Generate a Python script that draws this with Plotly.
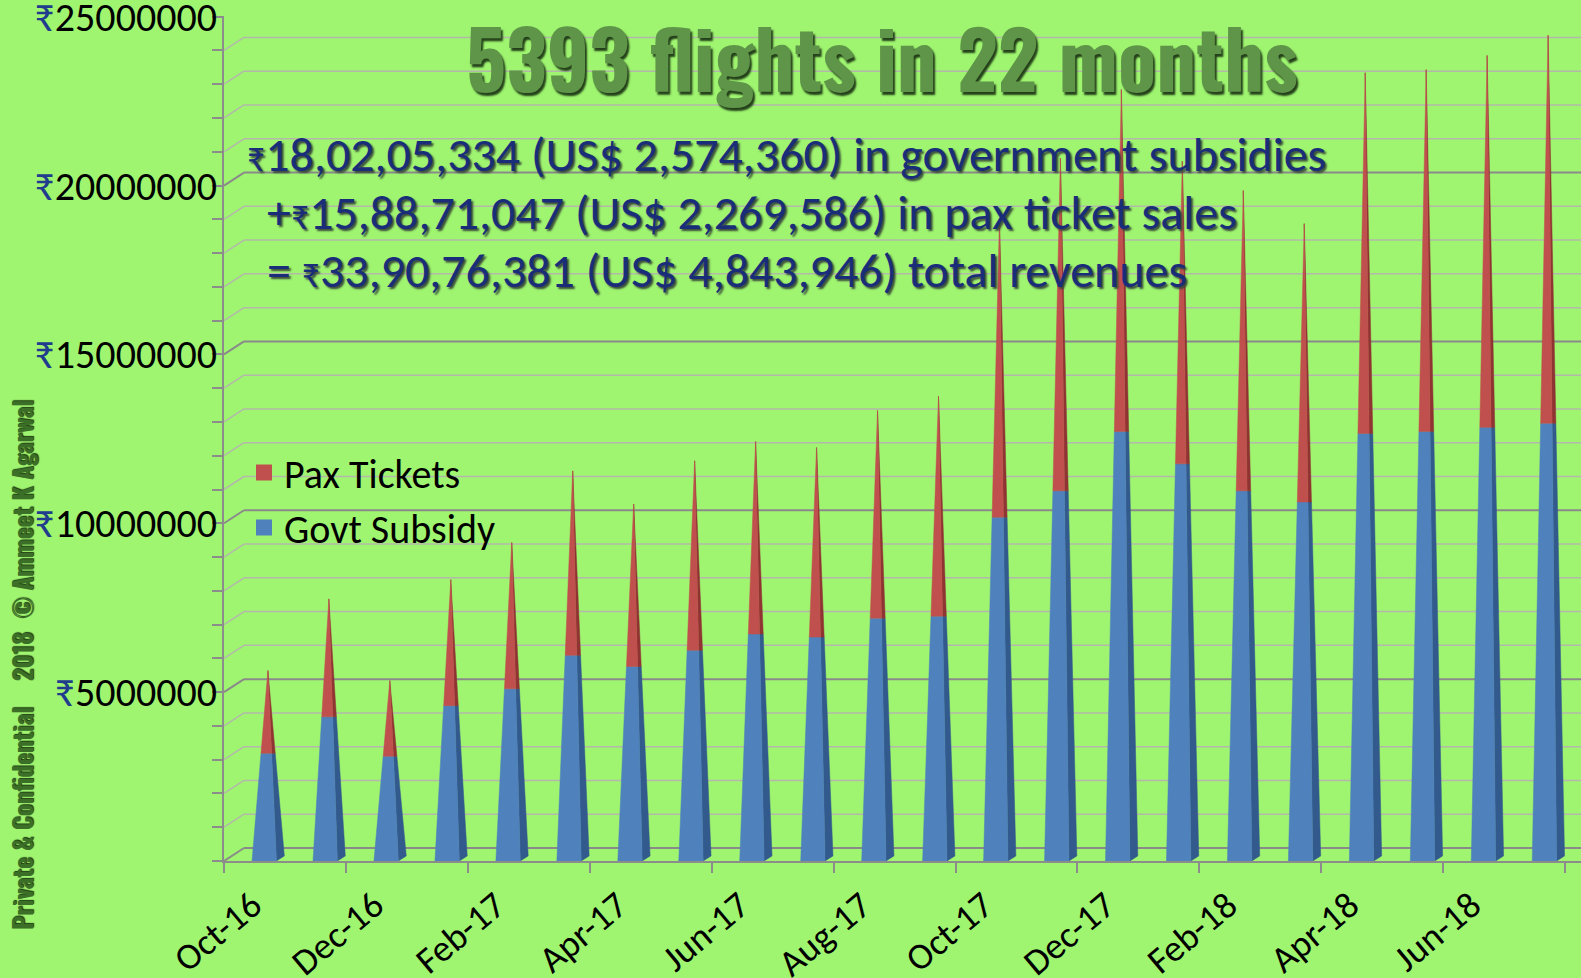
import plotly.graph_objects as go

months = ["Oct-16", "Nov-16", "Dec-16", "Jan-17", "Feb-17", "Mar-17", "Apr-17", "May-17",
          "Jun-17", "Jul-17", "Aug-17", "Sep-17", "Oct-17", "Nov-17", "Dec-17", "Jan-18",
          "Feb-18", "Mar-18", "Apr-18", "May-18", "Jun-18", "Jul-18"]
govt_subsidy = [3.19e6, 4.27e6, 3.10e6, 4.60e6, 5.10e6, 6.09e6, 5.76e6, 6.24e6, 6.72e6, 6.63e6, 7.19e6,
                7.25e6, 10.18e6, 10.96e6, 12.72e6, 11.76e6, 10.96e6, 10.63e6, 12.66e6, 12.72e6, 12.84e6, 12.96e6]
pax_tickets = [2.45e6, 3.49e6, 2.24e6, 3.73e6, 4.33e6, 5.46e6, 4.81e6, 5.61e6, 5.70e6, 5.61e6, 6.15e6,
               6.51e6, 8.78e6, 9.85e6, 10.12e6, 8.96e6, 8.89e6, 8.24e6, 10.68e6, 10.71e6, 11.01e6, 11.49e6]
ytick_values = [5e6, 10e6, 15e6, 20e6, 25e6]
ytick_labels = ["5000000", "10000000", "15000000", "20000000", "25000000"]
title_text = "5393 flights in 22 months"
RS = "<span style='font-size:36px'>₹</span>"
summary_lines = [RS + "18,02,05,334 (US$ 2,574,360) in government subsidies",
                 "+" + RS + "15,88,71,047 (US$ 2,269,586) in pax ticket sales",
                 "= " + RS + "33,90,76,381 (US$ 4,843,946) total revenues"]
side_text = "Private & Confidential\u00a0\u00a0\u00a0 2018 \u00a0© Ammeet K Agarwal"

W, H = 1581, 978
ML, MR, MT, MB = 224, 0, 16, 117
PW, PH = W - ML - MR, H - MT - MB
BG = "#9ff570"
YMAX = 25.02e6
GRID_STEP = 1e6


def px(x):
    return (x - ML) / PW


def py(y):
    return 1 - (y - MT) / PH


# pyramid geometry (in category units)
HW, AX, D, LIFT = 0.2, 0.06, 0.13, 0.15e6

blue_front_x, blue_front_y = [], []
blue_side_x, blue_side_y = [], []
red_front_x, red_front_y = [], []
red_side_x, red_side_y = [], []

for i, (s, p) in enumerate(zip(govt_subsidy, pax_tickets)):
    c = i
    t = s + p
    ax = c + AX

    def L(h):
        return (c - HW) + (ax - (c - HW)) * h / t

    def R(h):
        return (c + HW) + (ax - (c + HW)) * h / t

    bx0, by0 = c + HW + D, LIFT

    def B(h):
        return bx0 + (ax - bx0) * (h - by0) / (t - by0)

    blue_front_x += [L(0), R(0), R(s), L(s), L(0), None]
    blue_front_y += [0, 0, s, s, 0, None]
    red_front_x += [L(s), R(s), ax, L(s), None]
    red_front_y += [s, s, t, s, None]
    blue_side_x += [R(0), bx0, B(s), R(s), R(0), None]
    blue_side_y += [0, by0, s, s, 0, None]
    red_side_x += [R(s), B(s), ax, R(s), None]
    red_side_y += [s, s, t, s, None]

fig = go.Figure()


def poly(xs, ys, color):
    fig.add_trace(go.Scatter(x=xs, y=ys, mode="lines", fill="toself", fillcolor=color,
                             line=dict(width=0.5, color=color), showlegend=False, hoverinfo="skip"))


poly(blue_side_x, blue_side_y, "#335a8c")
poly(red_side_x, red_side_y, "#8f3432")
poly(blue_front_x, blue_front_y, "#4f81bd")
poly(red_front_x, red_front_y, "#c0504d")

fig.add_trace(go.Scatter(x=[None], y=[None], mode="markers", name="Pax Tickets",
                         marker=dict(symbol="square", size=20, color="#c0504d"), legendgroup="a"))
fig.add_trace(go.Scatter(x=[None], y=[None], mode="markers", name="Govt Subsidy",
                         marker=dict(symbol="square", size=20, color="#4f81bd"), legendgroup="b"))

# 3D-style back-wall gridlines (offset up and to the right of the front axis ticks)
back_dy = 13 * YMAX / PH
back_x = px(244)
n_grid = int(round(24e6 / GRID_STEP))
for k in range(n_grid + 1):
    v = k * GRID_STEP
    major = (k % 5 == 0)
    col = "#8a8a8a" if major else "#b3b8aa"
    wid = 2 if major else 1.5
    fig.add_shape(type="line", xref="paper", yref="y", x0=0, y0=v, x1=back_x, y1=v + back_dy,
                  line=dict(color=col, width=wid), layer="below")
    fig.add_shape(type="line", xref="paper", yref="y", x0=back_x, y0=v + back_dy, x1=1, y1=v + back_dy,
                  line=dict(color=col, width=wid), layer="below")

BODY = "Carlito, Lato, sans-serif"
IMPACT = "Oswald, 'Roboto Condensed', sans-serif"

fig.update_layout(
    width=W, height=H,
    margin=dict(l=ML, r=MR, t=MT, b=MB, pad=0, autoexpand=False),
    paper_bgcolor=BG,
    plot_bgcolor=BG,
    font=dict(family=BODY, color="#000000"),
    showlegend=True,
    legend=dict(x=px(244), y=py(440), xanchor="left", yanchor="top",
                bgcolor="rgba(0,0,0,0)", font=dict(size=40, color="#000000", family=BODY),
                tracegroupgap=0, itemsizing="trace"),
    xaxis=dict(range=[-0.66, 21.6], showgrid=False, zeroline=False, automargin=False,
               tickmode="array", tickvals=list(range(0, 22, 2)), ticktext=months[0::2],
               tickangle=-40, tickfont=dict(size=37, color="#000000", family=BODY), ticks="",
               ticklabelstandoff=6, ticklabelshift=-12, ticklabeloverflow="allow",
               showline=True, linecolor="#8c8c8c", linewidth=2,
               minor=dict(ticks="outside", tick0=-0.66, dtick=2, ticklen=10,
                          tickcolor="#8c8c8c", tickwidth=2, showgrid=False)),
    yaxis=dict(range=[0, YMAX], showline=True, linecolor="#8c8c8c", linewidth=2, automargin=False,
               tickmode="array", tickvals=ytick_values,
               ticktext=["<span style='color:#1f3d8c'>₹</span>" + t for t in ytick_labels],
               tickfont=dict(size=40, color="#000000", family=BODY),
               ticklabeloverflow="allow", ticklabelstandoff=-13,
               ticks="outside", ticklen=10, tickcolor="#8c8c8c", tickwidth=2,
               showgrid=False, zeroline=False,
               minor=dict(ticks="outside", dtick=GRID_STEP, tick0=0, ticklen=10, tickcolor="#8c8c8c",
                          showgrid=False)),
)

fig.add_annotation(text=title_text, xref="paper", yref="paper", x=px(882), y=py(57),
                   xanchor="center", yanchor="middle", showarrow=False,
                   font=dict(family=IMPACT, size=79, color="#5f9548", weight="bold",
                             shadow="2px 3px 2px #24401a"))

for txt, xp, yp in zip(summary_lines, [245, 265, 265], [154, 212, 270]):
    fig.add_annotation(text=txt, xref="paper", yref="paper", x=px(xp), y=py(yp),
                       xanchor="left", yanchor="middle", showarrow=False,
                       font=dict(family=BODY, size=48, color="#1a2d78",
                                 shadow="2px 2px 2px #3b4a3b"))

fig.add_annotation(text=side_text, xref="paper", yref="paper", x=px(21), y=py(665),
                   xanchor="center", yanchor="middle", showarrow=False, textangle=-90,
                   font=dict(family=IMPACT, size=25, color="#3b6e27", weight="bold",
                             shadow="1px 1px 1px #1d3a10"))

fig.write_html("out.html", config={"displayModeBar": False},
               post_script="document.body.style.margin='0';document.body.style.background='" + BG + "';")
